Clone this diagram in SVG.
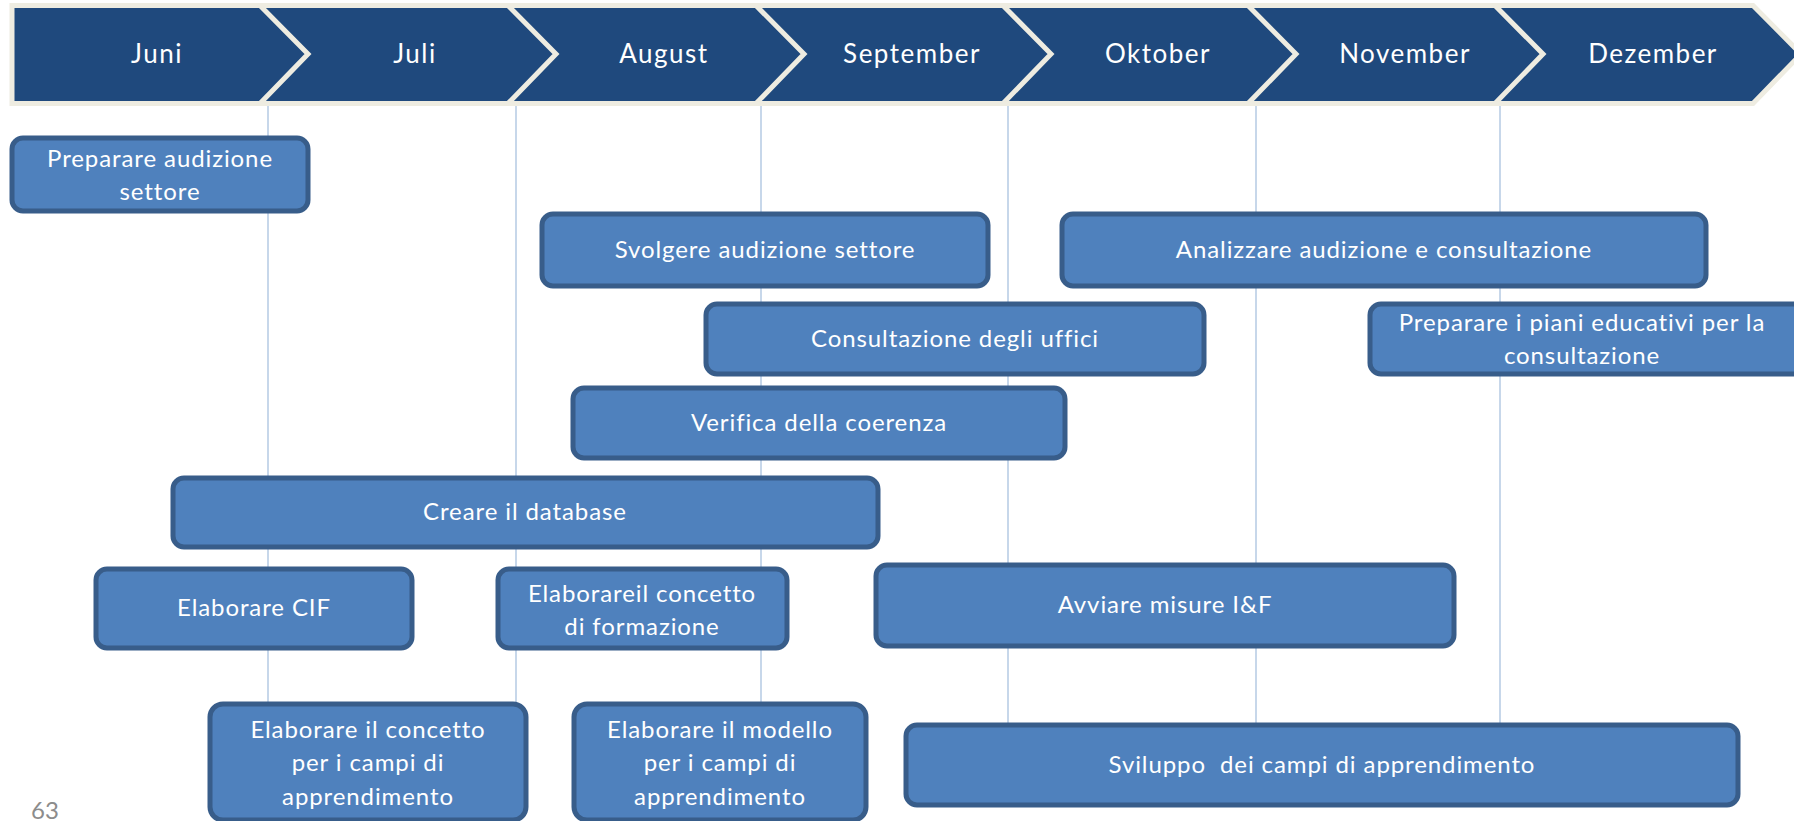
<svg xmlns="http://www.w3.org/2000/svg" width="1794" height="821" viewBox="0 0 1794 821">
<style>
.banner{fill:#1f497d;stroke:#eeece1;stroke-width:5;stroke-linejoin:miter}
.sep{fill:none;stroke:#eeece1;stroke-width:5}
.month{font-family:Lato,"Liberation Sans",sans-serif;font-size:26px;fill:#ffffff;text-anchor:middle;letter-spacing:1.5px}
.grid{stroke:#b9cde5;stroke-width:1.6}
.box{fill:#4f81bd;stroke:#385d8a;stroke-width:5}
.lbl{font-family:Lato,"Liberation Sans",sans-serif;font-size:24px;fill:#ffffff;text-anchor:middle;white-space:pre;letter-spacing:0.9px}
.pg{font-family:Lato,"Liberation Sans",sans-serif;font-size:24px;fill:#8c8c8c}
</style>
<rect width="1794" height="821" fill="#ffffff"/>
<g id="timeline">
<polygon class="banner" points="12,5.5 1753,5.5 1801,54 1753,103.5 12,103.5"/>
<polyline class="sep" points="260,5.5 308,54 260,103.5"/>
<polyline class="sep" points="508,5.5 556,54 508,103.5"/>
<polyline class="sep" points="756,5.5 804,54 756,103.5"/>
<polyline class="sep" points="1003,5.5 1051,54 1003,103.5"/>
<polyline class="sep" points="1248,5.5 1296,54 1248,103.5"/>
<polyline class="sep" points="1495,5.5 1543,54 1495,103.5"/>
<text class="month" x="157" y="63">Juni</text>
<text class="month" x="415" y="63">Juli</text>
<text class="month" x="664" y="63">August</text>
<text class="month" x="912" y="63">September</text>
<text class="month" x="1158" y="63">Oktober</text>
<text class="month" x="1405" y="63">November</text>
<text class="month" x="1653" y="63">Dezember</text>
</g>
<g id="connectors">
<line class="grid" x1="268" y1="106" x2="268" y2="730"/>
<line class="grid" x1="516" y1="106" x2="516" y2="730"/>
<line class="grid" x1="761" y1="106" x2="761" y2="730"/>
<line class="grid" x1="1008" y1="106" x2="1008" y2="730"/>
<line class="grid" x1="1256" y1="106" x2="1256" y2="730"/>
<line class="grid" x1="1500" y1="106" x2="1500" y2="730"/>
</g>
<g id="preparare-audizione">
<rect class="box" x="12" y="138" width="296" height="73" rx="11"/>
<text class="lbl" x="160" y="167">Preparare audizione</text>
<text class="lbl" x="160" y="200">settore</text>
</g>
<g id="svolgere-audizione">
<rect class="box" x="542" y="214" width="446" height="72" rx="11"/>
<text class="lbl" x="765" y="258">Svolgere audizione settore</text>
</g>
<g id="analizzare">
<rect class="box" x="1062" y="214" width="644" height="72" rx="11"/>
<text class="lbl" x="1384" y="258">Analizzare audizione e consultazione</text>
</g>
<g id="consultazione-uffici">
<rect class="box" x="706" y="304" width="498" height="70" rx="11"/>
<text class="lbl" x="955" y="347">Consultazione degli uffici</text>
</g>
<g id="preparare-piani">
<rect class="box" x="1370" y="304" width="440" height="70" rx="11"/>
<text class="lbl" x="1582" y="331">Preparare i piani educativi per la</text>
<text class="lbl" x="1582" y="364">consultazione</text>
</g>
<g id="verifica-coerenza">
<rect class="box" x="573" y="388" width="492" height="70" rx="11"/>
<text class="lbl" x="819" y="431">Verifica della coerenza</text>
</g>
<g id="creare-database">
<rect class="box" x="173" y="478" width="705" height="69" rx="11"/>
<text class="lbl" x="525" y="520">Creare il database</text>
</g>
<g id="elaborare-cif">
<rect class="box" x="96" y="569" width="316" height="79" rx="11"/>
<text class="lbl" x="254" y="616">Elaborare CIF</text>
</g>
<g id="elaborare-formazione">
<rect class="box" x="498" y="569" width="289" height="79" rx="11"/>
<text class="lbl" x="642" y="602">Elaborareil concetto</text>
<text class="lbl" x="642" y="635">di formazione</text>
</g>
<g id="avviare-misure">
<rect class="box" x="876" y="565" width="578" height="81" rx="11"/>
<text class="lbl" x="1165" y="613">Avviare misure I&amp;F</text>
</g>
<g id="elaborare-concetto-campi">
<rect class="box" x="210" y="704" width="316" height="116" rx="13"/>
<text class="lbl" x="368" y="738">Elaborare il concetto</text>
<text class="lbl" x="368" y="771">per i campi di</text>
<text class="lbl" x="368" y="805">apprendimento</text>
</g>
<g id="elaborare-modello-campi">
<rect class="box" x="574" y="704" width="292" height="116" rx="13"/>
<text class="lbl" x="720" y="738">Elaborare il modello</text>
<text class="lbl" x="720" y="771">per i campi di</text>
<text class="lbl" x="720" y="805">apprendimento</text>
</g>
<g id="sviluppo-campi">
<rect class="box" x="906" y="725" width="832" height="80" rx="11"/>
<text class="lbl" x="1322" y="773">Sviluppo  dei campi di apprendimento</text>
</g>
<text class="pg" x="31" y="819">63</text>
</svg>
